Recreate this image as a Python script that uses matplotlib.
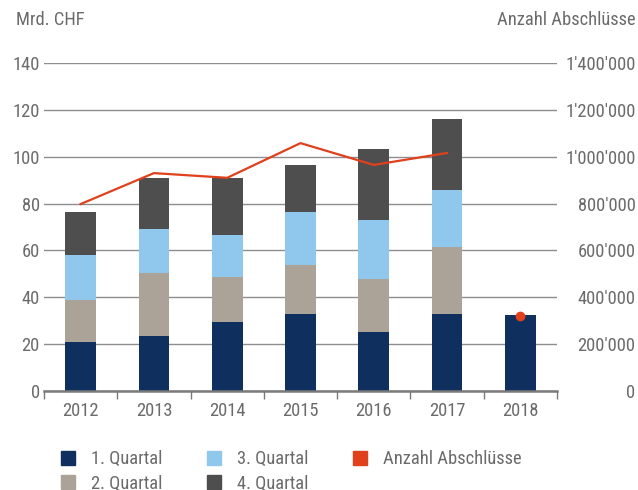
import numpy as np
import matplotlib
matplotlib.use('Agg')
import matplotlib.pyplot as plt
from matplotlib.patches import Patch
from matplotlib.ticker import FuncFormatter

plt.rcParams['font.family'] = ['Roboto Condensed', 'DejaVu Sans']

# data
years = ['2012', '2013', '2014', '2015', '2016', '2017', '2018']
q1 = [20.9, 23.5, 29.4, 32.9, 25.2, 32.9, 32.4]
q2 = [17.9, 26.9, 19.3, 20.9, 22.6, 28.6, 0.0]
q3 = [19.2, 18.7, 17.9, 22.6, 25.2, 24.3, 0.0]
q4 = [18.4, 21.8, 24.3, 20.1, 30.3, 30.3, 0.0]
anzahl = [798000, 930000, 910000, 1058000, 965000, 1016000, 320000]

series_labels = ['1. Quartal', '2. Quartal', '3. Quartal', '4. Quartal']
series_colors = ['#0f2f5f', '#aca398', '#8fc8ec', '#4e4e4e']
line_color = '#e0401c'
text_color = '#6b6b6b'
grid_color = '#8e8e8e'
fs = 13.3

fig = plt.figure(figsize=(6.38, 4.90), dpi=100)
ax = fig.add_axes([44/638, 1 - 391/490, (557-44)/638, (391-63)/490])

x = np.arange(len(years))
bottom = np.zeros(len(years))
for vals, col in zip([q1, q2, q3, q4], series_colors):
    ax.bar(x, vals, width=0.42, bottom=bottom, color=col, zorder=2)
    bottom += np.array(vals)

ax.set_xlim(-0.5, len(years) - 0.5)
ax.set_ylim(0, 140)
ax.set_yticks(range(0, 141, 20))
ax.yaxis.grid(True, color=grid_color, linewidth=1.0)
ax.set_axisbelow(True)
for s in ['top', 'left', 'right']:
    ax.spines[s].set_visible(False)
ax.spines['bottom'].set_color('#7a7a7a')
ax.spines['bottom'].set_linewidth(1.8)
ax.spines['bottom'].set_zorder(3)

ax.set_xticks(x)
ax.set_xticklabels(years)
ax.set_xticks(np.arange(-0.5, len(years)), minor=True)
ax.tick_params(axis='x', which='major', length=0, pad=8, labelsize=fs, labelcolor=text_color)
ax.tick_params(axis='x', which='minor', length=6, width=1, color='#7a7a7a')
ax.tick_params(axis='y', length=0, pad=3, labelsize=fs, labelcolor=text_color)

ax2 = ax.twinx()
ax2.set_ylim(0, 1400000)
ax2.set_yticks(range(0, 1400001, 200000))
ax2.yaxis.set_major_formatter(FuncFormatter(lambda v, p: f"{int(v):,}".replace(',', "'")))
for s in ax2.spines.values():
    s.set_visible(False)
ax2.tick_params(axis='y', length=0, pad=56.5, labelsize=fs, labelcolor=text_color)
for lbl in ax2.get_yticklabels():
    lbl.set_horizontalalignment('right')

ax2.plot(x[:6], anzahl[:6], color=line_color, linewidth=1.6, zorder=4)
ax2.plot(x[6:], anzahl[6:], 'o', color=line_color, markersize=6, zorder=4)

fig.text(16/638, 1 - 20/490, 'Mrd. CHF', ha='left', va='center', fontsize=fs, color=text_color)
fig.text(636/638, 1 - 20/490, 'Anzahl Abschlüsse', ha='right', va='center', fontsize=fs, color=text_color)

handles = [Patch(color=c, label=l) for c, l in zip(series_colors, series_labels)]
handles.append(Patch(color=line_color, label='Anzahl Abschlüsse'))
fig.legend(handles=handles, ncol=3, loc='upper left', bbox_to_anchor=(61/638, 1 - 450/490),
           frameon=False, fontsize=fs, labelcolor=text_color, handlelength=0.78,
           handleheight=0.78, handletextpad=0.85, columnspacing=2.4, labelspacing=0.35,
           borderaxespad=0, borderpad=0)

fig.savefig('out.png', dpi=100)
